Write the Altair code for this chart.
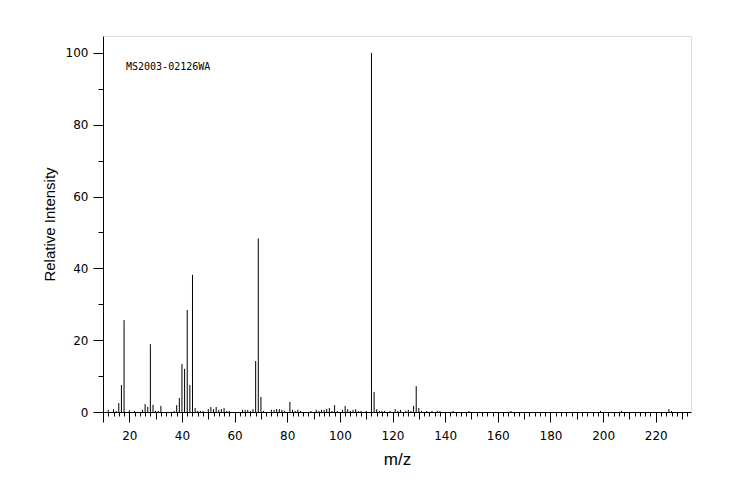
import altair as alt
import pandas as pd
import numpy as np

mz = [12, 14, 15, 16, 17, 18, 20, 22, 25, 26, 27, 28, 29, 30, 31, 32, 37, 38, 39, 40,
      41, 42, 43, 44, 45, 46, 47, 48, 50, 51, 52, 53, 54, 55, 56, 57, 58, 63, 64, 65,
      66, 67, 68, 69, 70, 71, 74, 75, 76, 77, 78, 79, 81, 82, 83, 84, 85, 89, 91, 92,
      93, 94, 95, 96, 97, 98, 99, 101, 102, 103, 104, 105, 106, 107, 108, 110, 112, 113, 114, 115,
      116, 117, 119, 121, 122, 123, 125, 126, 127, 128, 129, 130, 131, 133, 135, 137, 138, 143, 149, 165,
      199, 207, 225, 226]
intensity = [0.6, 0.8, 0.3, 2.5, 7.5, 25.6, 0.5, 0.3, 0.6, 2.2, 1.4, 18.9, 2.0, 0.3, 0.3, 1.7, 0.3, 1.9, 3.9, 13.4,
             12.0, 28.4, 7.5, 38.2, 1.1, 0.3, 0.3, 0.3, 0.8, 1.4, 0.8, 1.4, 0.6, 0.8, 1.1, 0.3, 0.3, 0.6, 0.6, 0.6,
             0.3, 0.8, 14.2, 48.3, 4.2, 0.3, 0.6, 0.6, 0.8, 0.8, 0.6, 0.3, 2.8, 0.6, 0.3, 0.6, 0.3, 0.3, 0.6, 0.3,
             0.6, 0.6, 0.8, 1.1, 0.3, 1.9, 0.3, 0.6, 1.7, 0.8, 0.3, 0.6, 0.8, 0.3, 0.3, 0.3, 100, 5.6, 0.8, 0.3,
             0.3, 0.3, 0.3, 0.8, 0.3, 0.6, 0.3, 0.6, 0.3, 1.7, 7.2, 1.1, 0.3, 0.3, 0.3, 0.3, 0.3, 0.3, 0.3, 0.3,
             0.3, 0.3, 0.8, 0.3]

x_ticks = [float(v) for v in np.arange(10, 233, 2)]
y_ticks = [0, 10, 20, 30, 40, 50, 60, 70, 80, 90, 100]
annotation = "MS2003-02126WA"

df = pd.DataFrame({"mz": mz, "intensity": intensity})

x_scale = alt.Scale(domain=[10, 233.4], nice=False, zero=False)
y_scale = alt.Scale(domain=[0, 104.7], nice=False)

peaks = alt.Chart(df).mark_rule(color="black", strokeWidth=1).encode(
    x=alt.X("mz:Q", scale=x_scale, title="m/z",
            axis=alt.Axis(values=x_ticks, labelExpr="datum.value % 20 === 0 ? datum.label : ''",
                          tickSize={"condition": [
                              {"test": "datum.value % 20 === 0 || datum.value === 10", "value": 10},
                              {"test": "datum.value % 10 === 0", "value": 7}],
                              "value": 4},
                          tickColor="black", domainColor="black", labelColor="black",
                          labelFont="DejaVu Sans", labelFontSize=12, labelPadding=8,
                          titleFont="Liberation Sans", titleFontSize=17, titleFontWeight="normal",
                          titleColor="black", titlePadding=10, grid=False, labelFlush=False)),
    y=alt.Y("intensity:Q", scale=y_scale, title="Relative Intensity",
            axis=alt.Axis(values=y_ticks, labelExpr="datum.value % 20 === 0 ? datum.label : ''",
                          tickSize={"condition": {"test": "datum.value % 20 === 0", "value": 10}, "value": 5},
                          tickColor="black", domainColor="black", labelColor="black",
                          labelFont="DejaVu Sans", labelFontSize=12, labelPadding=5,
                          titleFont="Liberation Sans", titleFontSize=15, titleFontWeight="normal",
                          titleColor="black", titlePadding=8, grid=False)),
    y2=alt.datum(0),
)

label = alt.Chart(pd.DataFrame({"t": [annotation]})).mark_text(
    align="left", baseline="middle", font="DejaVu Sans Mono", fontSize=10, color="black"
).encode(x=alt.value(23), y=alt.value(31), text="t:N")

chart = alt.layer(peaks, label).properties(
    width=588, height=376,
    padding={"left": 95, "top": 28, "right": 45, "bottom": 80},
    autosize=alt.AutoSizeParams(type="none"),
).configure_view(stroke="black", strokeWidth=1).configure(background="white")

chart.save("out.html", embed_options={"renderer": "svg", "actions": False})
